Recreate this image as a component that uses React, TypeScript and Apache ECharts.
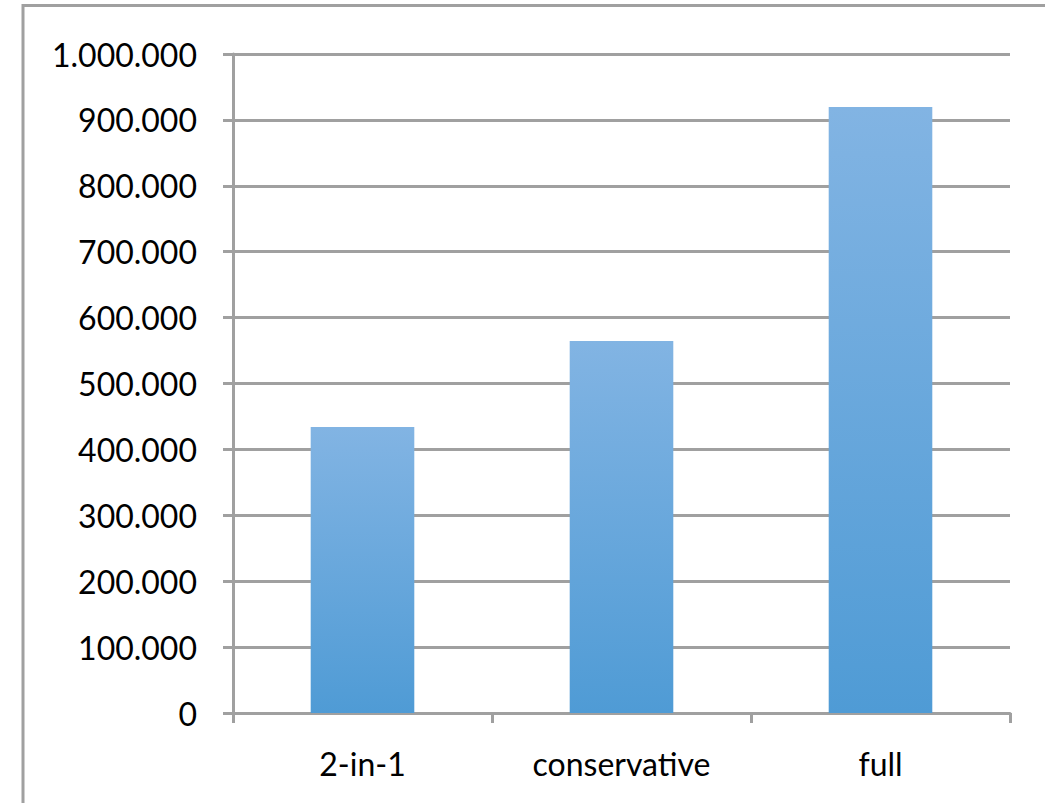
import React, { useEffect, useRef } from "react";
import * as echarts from "echarts";

// Categories and values of the bar chart
const categories = ["2-in-1", "conservative", "full"];
const values = [434000, 564500, 919500];

// Value axis range
const yMin = 0;
const yMax = 1000000;
const yStep = 100000;

const AXIS_GRAY = "#a0a0a0";
const FONT = "Lato, 'Open Sans', sans-serif";

// Thousands separated by dots: 1000000 -> 1.000.000
function formatThousands(v: number): string {
  return String(Math.round(v)).replace(/\B(?=(\d{3})+(?!\d))/g, ".");
}

export default function App() {
  const ref = useRef<HTMLDivElement | null>(null);

  useEffect(() => {
    if (!ref.current) return;
    const chart = echarts.init(ref.current, null, { renderer: "svg" });
    chart.setOption({
      animation: false,
      backgroundColor: "#ffffff",
      grid: { left: 233, right: 35, top: 54, bottom: 90, containLabel: false },
      graphic: [
        {
          type: "rect",
          shape: { x: 23, y: 5.5, width: 1100, height: 900 },
          style: { fill: "none", stroke: AXIS_GRAY, lineWidth: 3 },
          silent: true,
        },
      ],
      xAxis: {
        type: "category",
        data: categories,
        boundaryGap: true,
        axisLine: { show: true, lineStyle: { color: AXIS_GRAY, width: 3 } },
        axisTick: { show: true, length: 10, inside: false, lineStyle: { color: AXIS_GRAY, width: 3 } },
        axisLabel: { color: "#000", fontSize: 32, fontFamily: FONT, margin: 34 },
        splitLine: { show: false },
      },
      yAxis: {
        type: "value",
        min: yMin,
        max: yMax,
        interval: yStep,
        axisLine: { show: true, lineStyle: { color: AXIS_GRAY, width: 3 } },
        axisTick: { show: true, length: 10, inside: false, lineStyle: { color: AXIS_GRAY, width: 3 } },
        axisLabel: {
          color: "#000",
          fontSize: 32,
          fontFamily: FONT,
          margin: 36,
          formatter: (v: number) => formatThousands(v),
        },
        splitLine: { show: true, lineStyle: { color: AXIS_GRAY, width: 3 } },
      },
      series: [
        {
          type: "bar",
          data: values,
          barWidth: "40%",
          itemStyle: {
            color: new echarts.graphic.LinearGradient(0, 0, 0, 1, [
              { offset: 0, color: "#82b4e3" },
              { offset: 1, color: "#4f9bd5" },
            ]),
          },
        },
      ],
    });
    return () => chart.dispose();
  }, []);

  return (
    <div
      ref={ref}
      style={{ position: "absolute", left: 0, top: 0, width: 1045, height: 803 }}
    />
  );
}
